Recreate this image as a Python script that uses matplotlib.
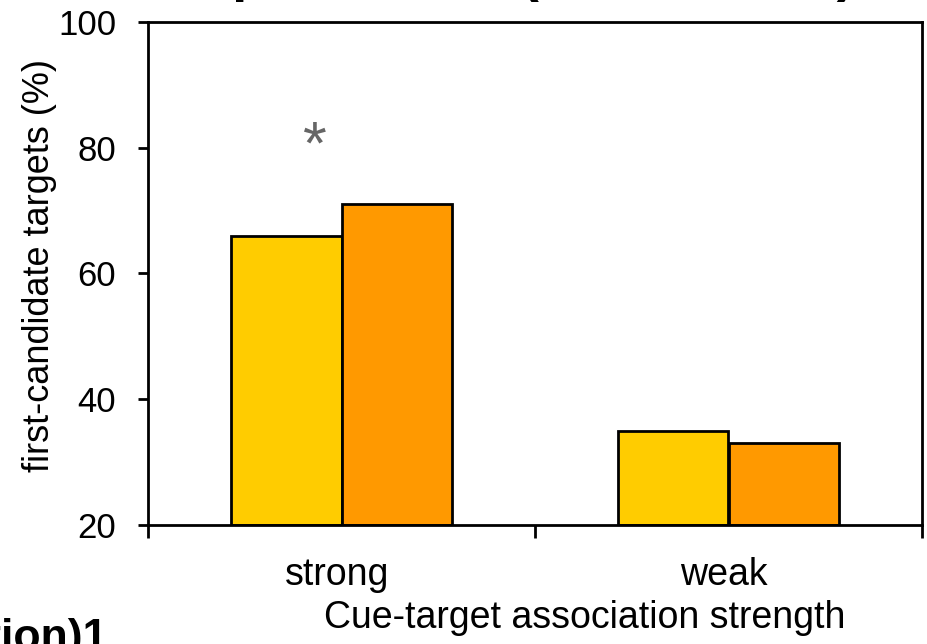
import numpy as np
import matplotlib.pyplot as plt

plt.rcParams['font.family'] = ['Liberation Sans', 'DejaVu Sans']

# values read per association-strength group
groups = ["strong", "weak"]
series_a = [66, 35]
series_b = [71, 33]
star_value = 77.5

fig = plt.figure(figsize=(9.27, 6.44), dpi=100)
ax = fig.add_axes([148 / 927, 1 - 525 / 644, 774 / 927, 503 / 644])

x = np.arange(len(groups))
w = 0.2868
ax.bar(x - w / 2, np.array(series_a) - 20, w, bottom=20, color="#FFCC00",
       edgecolor="black", linewidth=2.0, zorder=2)
ax.bar(x + w / 2, np.array(series_b) - 20, w, bottom=20, color="#FF9900",
       edgecolor="black", linewidth=2.0, zorder=2)

ax.text(-0.07, star_value, "*", color="#666666", fontsize=44,
        ha="center", va="baseline")

ax.set_xlim(-0.5, 1.5)
ax.set_ylim(20, 100)
ax.set_yticks([20, 40, 60, 80, 100])
ax.set_xticks([-0.5, 0.5, 1.5])
ax.set_xticklabels([])
ax.set_xticks(x - 0.012, minor=True)
ax.set_xticklabels(groups, minor=True)
ax.tick_params(axis="x", which="minor", length=0, pad=23, labelsize=27)
ax.tick_params(axis="x", which="major", length=9, width=2.0, direction="out")
ax.tick_params(axis="y", length=7, width=2.0, direction="out", pad=16,
               labelsize=25)
for s in ax.spines.values():
    s.set_linewidth(2.0)

ax.set_ylabel("first-candidate targets (%)", fontsize=26)
ax.yaxis.set_label_coords(-0.1176, 0.515)
ax.set_xlabel("Cue-target association strength", fontsize=27)
ax.xaxis.set_label_coords(0.5646, -0.185)
ax.xaxis.label.set_va("center")

fig.text(510 / 927, 1 + 8.5 / 644, "Experiment 1 (association)", fontsize=39,
         fontweight="bold", ha="center", va="baseline")
fig.text(108 / 927, -6 / 644, "(association)1", fontsize=32,
         fontweight="bold", ha="right", va="baseline")

fig.savefig("out.png", dpi=100)
